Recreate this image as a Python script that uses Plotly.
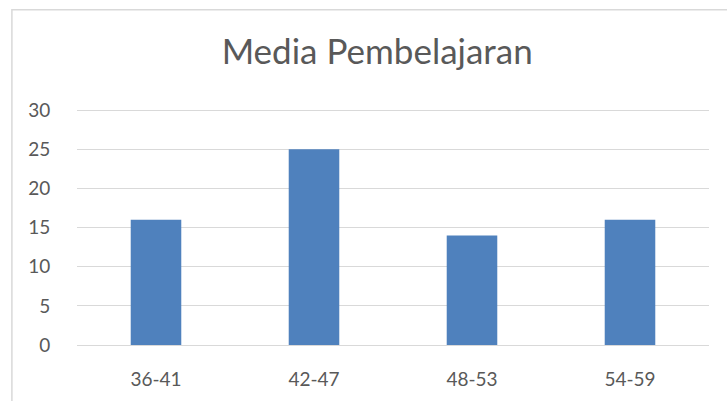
import plotly.graph_objects as go

# Data
categories = ['36-41', '42-47', '48-53', '54-59']
values = [16, 25, 14, 16]
y_ticks = [0, 5, 10, 15, 20, 25, 30]

BAR_COLOR = '#4F81BD'
TEXT_COLOR = '#595959'
GRID_COLOR = '#D9D9D9'
FONT = 'Lato, Open Sans, sans-serif'

fig = go.Figure()

fig.add_trace(go.Bar(
    x=categories,
    y=values,
    marker=dict(color=BAR_COLOR, line=dict(width=0)),
    width=0.32,
    showlegend=False,
))

fig.update_layout(
    width=727,
    height=401,
    margin=dict(l=77, r=18, t=109, b=56),
    paper_bgcolor='white',
    plot_bgcolor='white',
    font=dict(family=FONT, color=TEXT_COLOR, size=19),
    title=dict(
        text='Media Pembelajaran',
        x=0.475, xref='paper', xanchor='center',
        y=1 - 52 / 401, yref='container', yanchor='middle',
        font=dict(family=FONT, size=35, color=TEXT_COLOR),
    ),
)

fig.update_yaxes(
    range=[0, 30.15],
    tickvals=y_ticks,
    showgrid=True,
    gridcolor=GRID_COLOR,
    gridwidth=1.2,
    zeroline=False,
    showline=False,
    ticks='outside',
    ticklen=22,
    tickcolor='rgba(0,0,0,0)',
    tickfont=dict(size=19, color=TEXT_COLOR),
)

fig.update_xaxes(
    showgrid=False,
    showline=True,
    linecolor=GRID_COLOR,
    linewidth=1.2,
    ticks='outside',
    ticklen=17,
    tickcolor='rgba(0,0,0,0)',
    tickfont=dict(size=19, color=TEXT_COLOR),
)

# Chart frame (extends past the right and bottom edges as in the reference)
fig.add_shape(
    type='rect', xref='paper', yref='paper',
    x0=-0.103, x1=1.1, y0=-0.5, y1=1.421,
    line=dict(color='#D9D9D9', width=1.5),
    fillcolor='rgba(0,0,0,0)',
    layer='below',
)

fig.write_html(
    'out.html',
    config={'displayModeBar': False},
    post_script="document.body.style.margin='0';",
)
